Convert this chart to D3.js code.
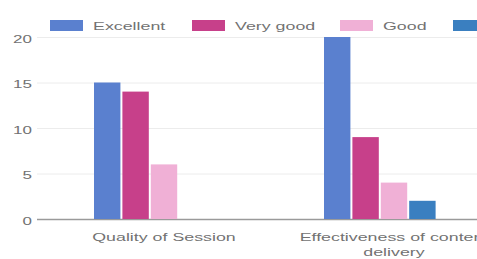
<!DOCTYPE html>
<html>
<head>
<meta charset="utf-8">
<script src="https://cdn.jsdelivr.net/npm/d3@7"></script>
<style>
  html, body { margin: 0; padding: 0; background: #fff; overflow: hidden; }
  text { font-family: "Liberation Sans", Arial, sans-serif; fill: #727272; }
</style>
</head>
<body>
<div id="chart"></div>
<script>
// chart data
const categories = ["Quality of Session", ["Effectiveness of content", "delivery"]]
const seriesNames = ["Excellent", "Very good", "Good", "Fair", "Poor"]
const excellent = [15, 20]
const veryGood = [14, 9]
const good = [6, 4]
const fair = [0, 2]
const poor = [0, 0]
const yTicks = [0, 5, 10, 15, 20]

const colors = ["#5a80cf", "#c7408a", "#f0b0d6", "#3a7fc0", "#9b9b9b"]
const series = [excellent, veryGood, good, fair, poor]

const w = 720
const h = 259
const plotTop = 37
const plotBottom = 219
const stretch = 1.62  // the reference text is wide and flat

const svg = d3.select("#chart")
  .append("svg")
  .attr("width", w)
  .attr("height", h)

const yScale = d3.scaleLinear()
  .domain([0, 20])
  .range([plotBottom, plotTop])

const x0 = d3.scaleBand()
  .domain(d3.range(categories.length))
  .range([49, 509])

const groupW = 140
const x1 = d3.scaleBand()
  .domain(d3.range(seriesNames.length))
  .range([0, groupW])
  .paddingInner(0.07)

function wideText(sel, x, y) {
  return sel.append("text")
    .attr("transform", `translate(${x},${y}) scale(${stretch},1)`)
}

// grid lines, with short tick stubs left of the plot
svg.append("g")
  .selectAll("line")
  .data(yTicks)
  .enter()
  .append("line")
    .attr("x1", 37)
    .attr("x2", w)
    .attr("y1", d => yScale(d) + 0.5)
    .attr("y2", d => yScale(d) + 0.5)
    .attr("stroke", d => d == 0 ? "#9a9a9a" : "#ececec")
    .attr("stroke-width", d => d == 0 ? 1.5 : 1)

// y tick labels
yTicks.forEach(d => {
  wideText(svg, 32, yScale(d) + 2)
    .attr("dy", "0.35em")
    .attr("text-anchor", "end")
    .style("font-size", "10.5px")
    .text(d)
})

// bars
series.forEach((vals, s) => {
  svg.append("g")
    .selectAll("rect")
    .data(vals)
    .enter()
    .append("rect")
      .attr("x", (d, i) => x0(i) + (x0.bandwidth() - groupW) / 2 + x1(s))
      .attr("y", d => yScale(d))
      .attr("width", x1.bandwidth())
      .attr("height", d => plotBottom - yScale(d))
      .attr("fill", colors[s])
})

// x labels
categories.forEach((c, i) => {
  const lines = Array.isArray(c) ? c : [c]
  const cx = x0(i) + x0.bandwidth() / 2
  const t = wideText(svg, cx, 241)
    .attr("text-anchor", "middle")
    .style("font-size", "11px")
  lines.forEach((l, j) => {
    t.append("tspan")
      .attr("x", 0)
      .attr("dy", j == 0 ? 0 : 15)
      .text(l)
  })
})

// legend
const legendX = [50, 192, 340, 453, 580]
seriesNames.forEach((n, i) => {
  svg.append("rect")
    .attr("x", legendX[i])
    .attr("y", 20)
    .attr("width", 33)
    .attr("height", 11)
    .attr("fill", colors[i])
  wideText(svg, legendX[i] + 43, 26)
    .attr("dy", "0.35em")
    .style("font-size", "11px")
    .text(n)
})
</script>
</body>
</html>
